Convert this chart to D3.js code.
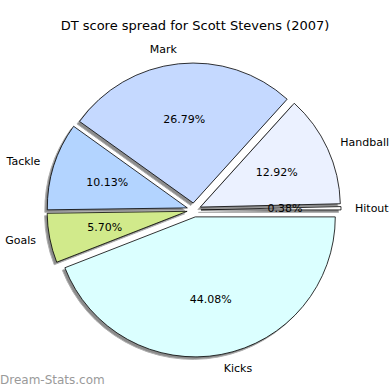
<!DOCTYPE html>
<html>

<head>
    <style>
        body { margin: 0; background: #fff; }
        text { font-family: "DejaVu Sans", sans-serif; }
    </style>
</head>

<body>
    <svg id="container" height="390" width="390">
        <g id="body"></g>
    </svg>
</body>
<script src="https://d3js.org/d3.v7.min.js"></script>

<script>
    // counter-clockwise from 3 o'clock, like the original matplotlib pie
    let categories = ["Hitout", "Handball", "Mark", "Tackle", "Goals", "Kicks"];
    let shares = [0.38, 12.92, 26.79, 10.13, 5.70, 44.08];
    let colors = ["#ffffff", "#ebf1ff", "#c5d9ff", "#b3d4ff", "#d1ea8b", "#dbffff"];

    let body = d3.select("#body");
    let cx = 194, cy = 210, radius = 140, explode = 7;

    let data = categories.map((c, i) => ({name: c, value: shares[i], color: colors[i]}));

    let pie = d3.pie()
        .sort(null)
        .value((d) => d.value)
        .startAngle(Math.PI / 2)
        .endAngle(Math.PI / 2 - 2 * Math.PI);

    let arc = d3.arc().innerRadius(0).outerRadius(radius);
    let arcs = pie(data);

    function mid(d) { return (d.startAngle + d.endAngle) / 2; }
    function shift(d) {
        let a = mid(d);
        return [cx + explode * Math.sin(a), cy - explode * Math.cos(a)];
    }

    // shadows first
    body.append("g")
        .selectAll("path")
        .data(arcs)
        .enter()
        .append("path")
            .attr("transform", (d) => `translate(${shift(d)[0] - 2.5}, ${shift(d)[1] + 2.5})`)
            .attr("d", arc)
            .attr("fill", "#8c8c8c")
            .attr("stroke", "#b0b0b0")
            .attr("stroke-width", 1);

    body.append("g")
        .selectAll("path")
        .data(arcs)
        .enter()
        .append("path")
            .attr("transform", (d) => `translate(${shift(d)[0]}, ${shift(d)[1]})`)
            .attr("d", arc)
            .attr("fill", (d) => d.data.color)
            .attr("stroke", "#000")
            .attr("stroke-width", 0.8)
            .attr("stroke-linejoin", "round");

    // category labels
    body.append("g")
        .selectAll("text")
        .data(arcs)
        .enter()
        .append("text")
            .attr("x", (d) => shift(d)[0] + 1.1 * radius * Math.sin(mid(d)))
            .attr("y", (d) => shift(d)[1] - 1.1 * radius * Math.cos(mid(d)))
            .attr("text-anchor", (d) => Math.sin(mid(d)) > 0 ? "start" : "end")
            .attr("dominant-baseline", "central")
            .attr("font-size", 11)
            .attr("fill", "#000")
            .text((d) => d.data.name);

    // percentages
    body.append("g")
        .selectAll("text")
        .data(arcs)
        .enter()
        .append("text")
            .attr("x", (d) => shift(d)[0] + 0.6 * radius * Math.sin(mid(d)))
            .attr("y", (d) => shift(d)[1] - 0.6 * radius * Math.cos(mid(d)))
            .attr("text-anchor", "middle")
            .attr("dominant-baseline", "central")
            .attr("font-size", 11)
            .attr("fill", "#000")
            .text((d) => d.data.value.toFixed(2) + "%");

    body.append("text")
        .attr("x", 195)
        .attr("y", 25)
        .attr("text-anchor", "middle")
        .attr("dominant-baseline", "central")
        .attr("font-size", 13)
        .text("DT score spread for Scott Stevens (2007)");

    body.append("text")
        .attr("x", 0)
        .attr("y", 380)
        .attr("dominant-baseline", "central")
        .attr("font-size", 12)
        .attr("fill", "#9a9a9a")
        .text("Dream-Stats.com");
</script>

</html>
